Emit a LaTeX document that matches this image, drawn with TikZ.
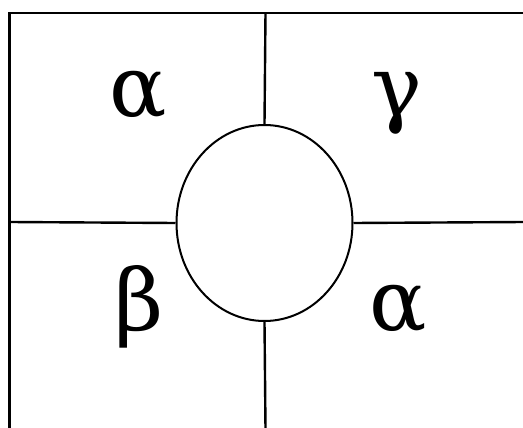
\documentclass[tikz,border=0pt]{standalone}
\usepackage{fontspec}
\setmainfont{DejaVu Serif}
\usetikzlibrary{shapes.geometric}
\begin{document}
\begin{tikzpicture}[x=1pt,y=-1pt,
  frame/.style={line width=2.6pt},
  divider/.style={line width=2.4pt},
  greek/.style={font=\fontsize{85}{85}\selectfont, anchor=base, inner sep=0pt}]
\useasboundingbox (0,0) rectangle (523,428);
% frame corners
\coordinate (tr) at (524,13);
\coordinate (tl) at (9.5,13);
\coordinate (bl) at (9.5,429);
% divider ends
\coordinate (vtop) at (265.5,13);
\coordinate (vbot) at (265.5,429);
\coordinate (hleft) at (9.5,222);
\coordinate (hright) at (524,222);
% circle
\node[draw, ellipse, line width=2pt, minimum width=176pt, minimum height=196pt, inner sep=0pt] (c) at (264.5,223) {};
\draw[frame] (tr) -- (tl) -- (bl);
\draw[divider] (vtop) -- (c.north);
\draw[divider] (c.south) -- (vbot);
\draw[divider] (hleft) -- (c.west);
\draw[divider] (c.east) -- (hright);
% labels
\node[greek] (a1) at (138.5,117) {α};
\node[greek] (g) at (397,117) {γ};
\node[greek] (b) at (139,330) {β};
\node[greek] (a2) at (398.5,330) {α};
\end{tikzpicture}
\end{document}
